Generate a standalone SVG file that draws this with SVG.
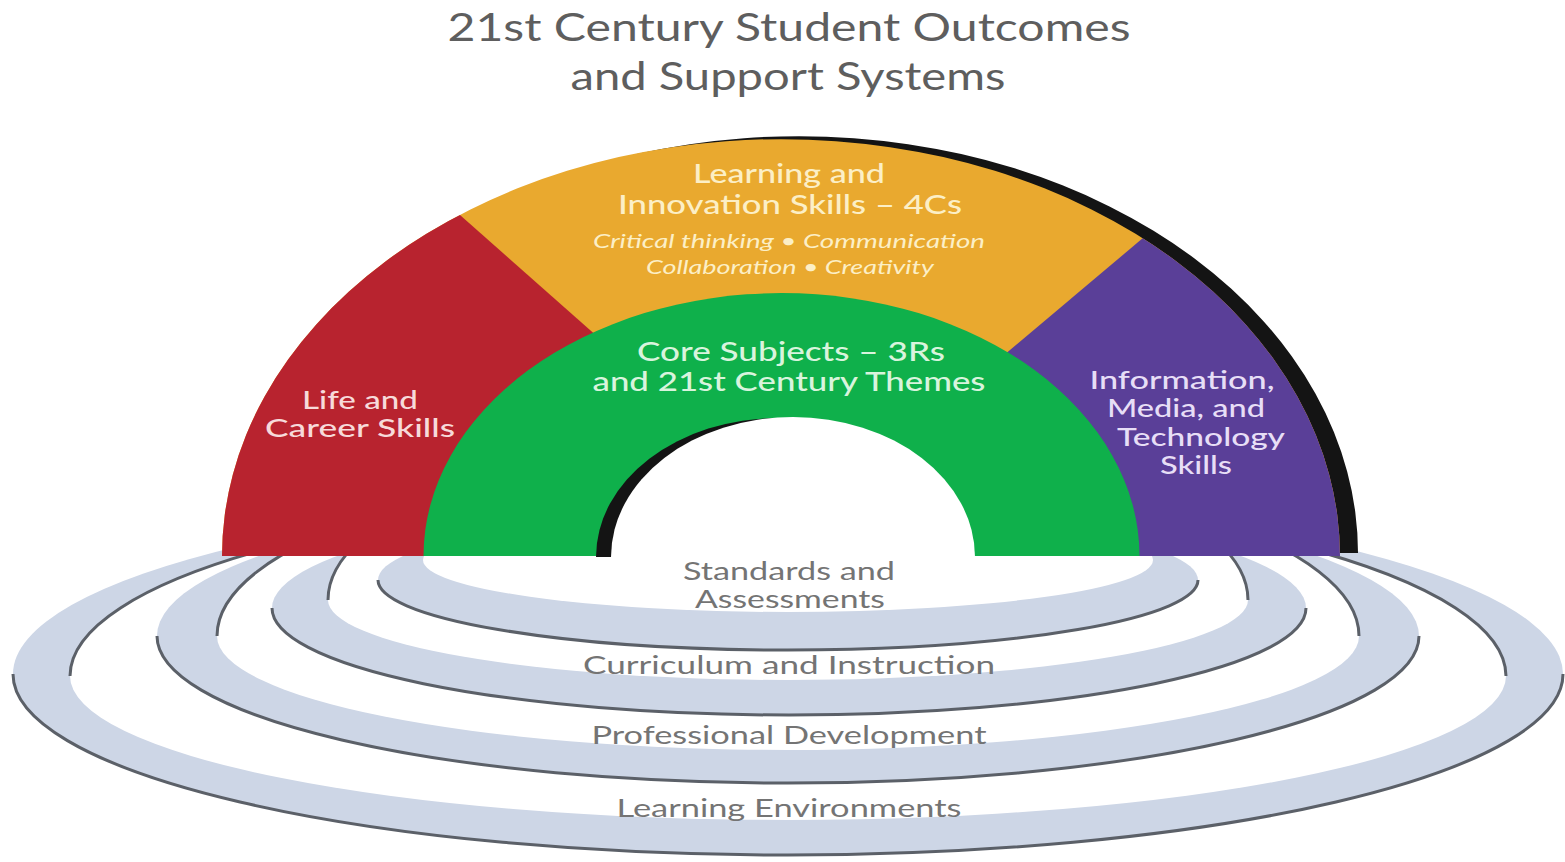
<svg xmlns="http://www.w3.org/2000/svg" width="1565" height="862" viewBox="0 0 1565 862">
<defs>
<clipPath id="archClip"><path d="M 222,556 A 559 417 0 0 1 1340,556 Z"/></clipPath>
</defs>
<style>
.band{fill:#cdd6e6}
.hole{fill:#ffffff}
.edge{fill:none;stroke:#5b6068;stroke-width:3}
.t{font-family:Lato,"Open Sans","Liberation Sans",sans-serif;text-anchor:middle}
.title{fill:#5e5e5e;font-size:38px}
.cream{fill:#fcefc6;font-size:27px;font-weight:500}
.creamI{fill:#fcefc6;font-size:20px;font-style:italic}
.lgreen{fill:#d9f4dd;font-size:27px;font-weight:500}
.pink{fill:#f7dada;font-size:25px;font-weight:500}
.lav{fill:#e7def6;font-size:25px;font-weight:500}
.gray{fill:#747474;font-size:25px}
</style>
<rect width="1565" height="862" fill="#ffffff"/>
<g id="title">
<text class="t title" x="789" y="41" textLength="683" lengthAdjust="spacingAndGlyphs">21st Century Student Outcomes</text>
<text class="t title" x="788" y="90" textLength="435" lengthAdjust="spacingAndGlyphs">and Support Systems</text>
</g>
<g id="ring-learning-environments">
<ellipse class="band" cx="788" cy="674" rx="775" ry="181"/>
<path class="hole" d="M 70,676 A 718 185 0 0 1 1506,676 A 718 144 0 0 1 70,676 Z"/>
<path class="edge" d="M 13,674 A 775 181 0 0 0 1563,674"/>
<path class="edge" d="M 70,676 A 718 185 0 0 1 1506,676"/>
<text class="t gray" x="789" y="817" textLength="345" lengthAdjust="spacingAndGlyphs">Learning Environments</text>
</g>
<g id="ring-professional-development">
<ellipse class="band" cx="788" cy="636" rx="631" ry="147"/>
<path class="hole" d="M 217,636 A 571 175 0 0 1 1359,636 A 571 114 0 0 1 217,636 Z"/>
<path class="edge" d="M 157,636 A 631 147 0 0 0 1419,636"/>
<path class="edge" d="M 217,636 A 571 175 0 0 1 1359,636"/>
<text class="t gray" x="789" y="744" textLength="395" lengthAdjust="spacingAndGlyphs">Professional Development</text>
</g>
<g id="ring-curriculum">
<ellipse class="band" cx="789" cy="608" rx="517" ry="107"/>
<path class="hole" d="M 328,600 A 460 163 0 0 1 1248,600 A 460 80 0 0 1 328,600 Z"/>
<path class="edge" d="M 272,608 A 517 107 0 0 0 1306,608"/>
<path class="edge" d="M 328,600 A 460 163 0 0 1 1248,600"/>
<text class="t gray" x="789" y="674" textLength="412" lengthAdjust="spacingAndGlyphs">Curriculum and Instruction</text>
</g>
<g id="ring-standards">
<ellipse class="band" cx="788" cy="580" rx="410" ry="70"/>
<ellipse class="hole" cx="788" cy="560" rx="365" ry="52"/>
<path class="edge" d="M 378,580 A 410 70 0 0 0 1198,580"/>
<text class="t gray" x="789" y="580" textLength="212" lengthAdjust="spacingAndGlyphs">Standards and</text>
<text class="t gray" x="790" y="608" textLength="190" lengthAdjust="spacingAndGlyphs">Assessments</text>
</g>
<g id="arch">
<path d="M 240,553 A 559 417 0 0 1 1358,553 Z" fill="#141414"/>
<path d="M 222,556 A 559 417 0 0 1 1340,556 Z" fill="#e9a92f"/>
<g clip-path="url(#archClip)">
<polygon points="330,100 720,445 720,560 200,560 200,100" fill="#b8232f"/>
<polygon points="1276,126 877,462 877,560 1400,560 1400,126" fill="#5a3f98"/>
</g>
</g>
<g id="life-career">
<text class="t pink" x="360" y="409" textLength="116" lengthAdjust="spacingAndGlyphs">Life and</text>
<text class="t pink" x="360" y="437" textLength="190" lengthAdjust="spacingAndGlyphs">Career Skills</text>
</g>
<g id="learning-innovation">
<text class="t cream" x="789" y="183" textLength="192" lengthAdjust="spacingAndGlyphs">Learning and</text>
<text class="t cream" x="790" y="214" textLength="344" lengthAdjust="spacingAndGlyphs">Innovation Skills – 4Cs</text>
<text class="t creamI" x="789" y="248" textLength="392" lengthAdjust="spacingAndGlyphs">Critical thinking • Communication</text>
<text class="t creamI" x="790" y="274" textLength="288" lengthAdjust="spacingAndGlyphs">Collaboration • Creativity</text>
</g>
<g id="information-media">
<text class="t lav" x="1182" y="389" textLength="185" lengthAdjust="spacingAndGlyphs">Information,</text>
<text class="t lav" x="1186" y="417" textLength="158" lengthAdjust="spacingAndGlyphs">Media, and</text>
<text class="t lav" x="1201" y="446" textLength="168" lengthAdjust="spacingAndGlyphs">Technology</text>
<text class="t lav" x="1196" y="474" textLength="72" lengthAdjust="spacingAndGlyphs">Skills</text>
</g>
<g id="core-subjects">
<path d="M 423.5,556 A 358 263 0 0 1 1139.5,556 Z" fill="#0fb04b"/>
<path d="M 596,557 A 182 139 0 0 1 960,557 Z" fill="#141414"/>
<path d="M 611,557 A 182 140 0 0 1 975,557 Z" fill="#ffffff"/>
<text class="t lgreen" x="791" y="361" textLength="308" lengthAdjust="spacingAndGlyphs">Core Subjects – 3Rs</text>
<text class="t lgreen" x="789" y="391" textLength="393" lengthAdjust="spacingAndGlyphs">and 21st Century Themes</text>
</g>
<g id="connectors"></g>
</svg>
